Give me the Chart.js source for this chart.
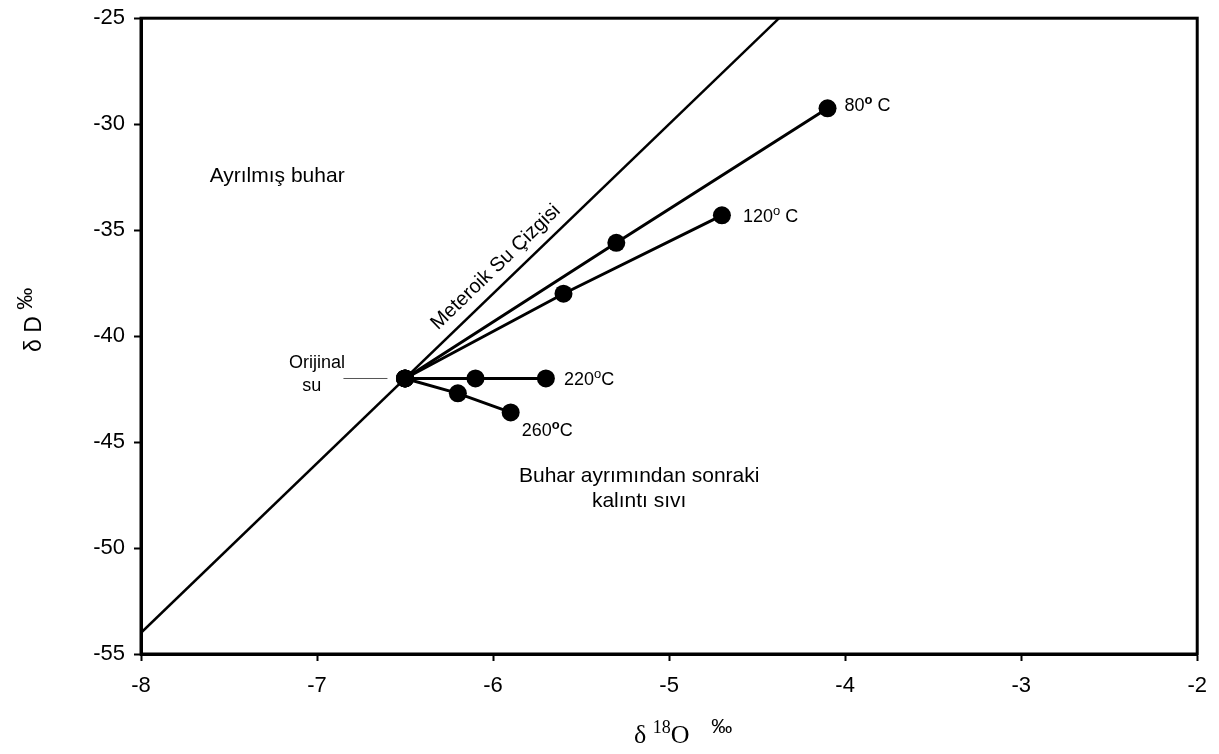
<!DOCTYPE html>
<html>
<head>
<meta charset="utf-8">
<script src="https://cdn.jsdelivr.net/npm/chart.js"></script>
<style>
  html, body { margin: 0; padding: 0; background: #fff; overflow: hidden; }
  #wrap { width: 1219px; height: 758px; margin-top: -4px; }
</style>
</head>
<body>
<div id="wrap"><canvas id="chart"></canvas></div>
<script>
// axis ticks
const xTicks = [-8, -7, -6, -5, -4, -3, -2];
const yTicks = [-55, -50, -45, -40, -35, -30, -25];

// meteoric water line end points
const mwlX = [-8, -4.375];
const mwlY = [-54, -25];

// evaporation paths from the original water
const t80X = [-6.5, -5.3, -4.1];
const t80Y = [-42, -35.6, -29.25];
const t120X = [-6.5, -5.6, -4.7];
const t120Y = [-42, -38, -34.3];
const t220X = [-6.5, -6.1, -5.7];
const t220Y = [-42, -42, -42];
const t260X = [-6.5, -6.2, -5.9];
const t260Y = [-42, -42.7, -43.6];

function pts(xs, ys) {
    return xs.map((x, i) => ({ x: x, y: ys[i] }));
}

function pathSet(xs, ys) {
    return {
        data: pts(xs, ys),
        showLine: true,
        borderColor: '#000',
        borderWidth: 3,
        backgroundColor: '#000',
        pointRadius: 9,
        pointBorderWidth: 0,
        pointHoverRadius: 9
    };
}

const FONT = '"Liberation Sans", Arial, sans-serif';
const SERIF = '"Liberation Serif", "Times New Roman", serif';

// draw a run of text pieces, some as superscripts
function drawRun(ctx, parts, x, y, size) {
    ctx.textBaseline = 'alphabetic';
    ctx.textAlign = 'left';
    parts.forEach(p => {
        const s = p.sup ? Math.round(size * (p.scale || 0.7)) : size;
        ctx.font = (p.bold ? 'bold ' : '') + s + 'px ' + (p.font || FONT);
        ctx.fillText(p.t, x, y - (p.sup ? size * 0.4 : 0));
        x += ctx.measureText(p.t).width;
    });
}

const notes = {
    id: 'notes',
    afterDraw(chart) {
        const ctx = chart.ctx;
        const a = chart.chartArea;
        const xs = chart.scales.x, ys = chart.scales.y;
        const px = v => xs.getPixelForValue(v);
        const py = v => ys.getPixelForValue(v);
        ctx.save();

        // frame
        ctx.strokeStyle = '#000';
        ctx.lineWidth = 3;
        ctx.strokeRect(a.left, a.top, a.right - a.left, a.bottom - a.top);

        ctx.fillStyle = '#000';
        const sz = 18;
        // temperature labels next to the last point of each path
        drawRun(ctx, [{ t: '80' }, { t: 'o', sup: true, bold: true }, { t: ' C' }],
            px(t80X[2]) + 17, py(t80Y[2]) + 3, sz);
        drawRun(ctx, [{ t: '120' }, { t: 'o', sup: true }, { t: ' C' }],
            px(t120X[2]) + 21, py(t120Y[2]) + 7, sz);
        drawRun(ctx, [{ t: '220' }, { t: 'o', sup: true }, { t: 'C' }],
            px(t220X[2]) + 18, py(t220Y[2]) + 7, sz);
        drawRun(ctx, [{ t: '260' }, { t: 'o', sup: true, bold: true }, { t: 'C' }],
            px(t260X[2]) + 11, py(t260Y[2]) + 24, sz);

        ctx.textBaseline = 'middle';
        ctx.textAlign = 'center';
        ctx.font = sz + 'px ' + FONT;
        ctx.fillText('Orijinal', px(-7.0), py(-41.25));
        ctx.fillText('su', px(-7.03), py(-42.35));

        ctx.font = '21px ' + FONT;
        ctx.textAlign = 'left';
        ctx.fillText('Ayrılmış buhar', px(-7.61), py(-32.45));
        ctx.textAlign = 'center';
        ctx.fillText('Buhar ayrımından sonraki', px(-5.17), py(-46.6));
        ctx.fillText('kalıntı sıvı', px(-5.17), py(-47.8));

        // leader line for original water
        ctx.strokeStyle = '#555';
        ctx.lineWidth = 1;
        ctx.beginPath();
        ctx.moveTo(px(-6.85), py(-42));
        ctx.lineTo(px(-6.6), py(-42));
        ctx.stroke();

        // meteoric line label, rotated along the line
        const ang = Math.atan2(py(mwlY[1]) - py(mwlY[0]), px(mwlX[1]) - px(mwlX[0]));
        ctx.save();
        ctx.translate(px(-5.985), py(-36.75));
        ctx.rotate(ang);
        ctx.textAlign = 'center';
        ctx.textBaseline = 'middle';
        ctx.font = '20px ' + FONT;
        ctx.fillText('Meteroik Su Çizgisi', 0, 0);
        ctx.restore();

        // y axis title
        ctx.save();
        ctx.translate(41, 356);
        ctx.rotate(-Math.PI / 2);
        drawRun(ctx, [{ t: 'δ D ' }, { t: '‰', sup: true, scale: 0.95 }], 0, 0, 23);
        ctx.restore();

        // x axis title
        drawRun(ctx, [{ t: 'δ ', font: SERIF }, { t: '18', sup: true, font: SERIF },
            { t: 'O', font: SERIF }, { t: '   ' }, { t: '‰', sup: true, scale: 0.8 }], 634, 747, 26);

        ctx.restore();
    }
};

new Chart(document.getElementById('chart'), {
    type: 'scatter',
    data: {
        datasets: [
            {
                data: pts(mwlX, mwlY),
                showLine: true,
                borderColor: '#000',
                borderWidth: 2.5,
                pointRadius: 0,
                pointHoverRadius: 0
            },
            pathSet(t80X, t80Y),
            pathSet(t120X, t120Y),
            pathSet(t220X, t220Y),
            pathSet(t260X, t260Y)
        ]
    },
    options: {
        responsive: true,
        maintainAspectRatio: false,
        animation: false,
        layout: { padding: { top: 13, right: 20, left: 0, bottom: 0 } },
        plugins: {
            legend: { display: false },
            tooltip: { enabled: false }
        },
        scales: {
            x: {
                type: 'linear',
                min: xTicks[0],
                max: xTicks[xTicks.length - 1],
                afterBuildTicks: s => { s.ticks = xTicks.map(v => ({ value: v })); },
                afterFit: s => { s.height = 100; },
                grid: { drawOnChartArea: false, tickLength: 7, tickColor: '#000', tickWidth: 2 },
                border: { color: '#000', width: 3 },
                ticks: { color: '#000', font: { family: FONT, size: 22 }, padding: 12 }
            },
            y: {
                type: 'linear',
                min: yTicks[0],
                max: yTicks[yTicks.length - 1],
                afterBuildTicks: s => { s.ticks = yTicks.map(v => ({ value: v })); },
                afterFit: s => { s.width = 141; },
                grid: { drawOnChartArea: false, tickLength: 7, tickColor: '#000', tickWidth: 2 },
                border: { color: '#000', width: 3 },
                ticks: { color: '#000', font: { family: FONT, size: 22 }, padding: 9 }
            }
        }
    },
    plugins: [notes]
});
</script>
</body>
</html>
